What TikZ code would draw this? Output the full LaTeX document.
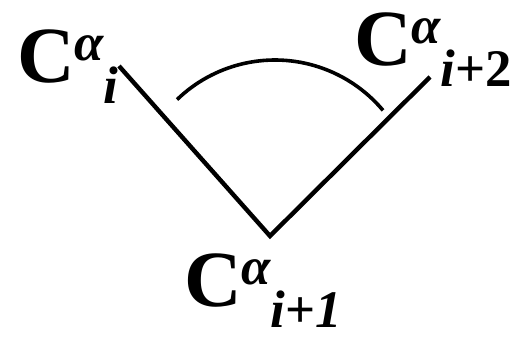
\documentclass[tikz,border=0pt]{standalone}
\usepackage{fontspec}
\setmainfont{Liberation Serif}
\usetikzlibrary{calc}
\tikzset{
  bond/.style={line width=4.4bp,line join=miter},
  anglemark/.style={line width=3.6bp},
  atomlbl/.style={inner sep=0pt,anchor=base west}
}
\newcommand{\scriptfnt}{\fontsize{53}{53}\selectfont\bfseries}
\newcommand{\calpha}[1]{{\fontsize{80}{80}\selectfont\bfseries C\raisebox{22bp}{\scriptfnt\itshape α}\raisebox{-21bp}{\scriptfnt #1}}}

\begin{document}
\begin{tikzpicture}[x=1bp,y=-1bp]
\useasboundingbox (0,0) rectangle (523,336);

% backbone atoms
\coordinate (ca0) at (119,66);
\coordinate (ca1) at (270,236);
\coordinate (ca2) at (430,77);
\coordinate (ctr) at (275,201);

% labels
\node[atomlbl] (l0) at (17,82) {\calpha{\textit{i}}};
\node[atomlbl] (l1) at (184,306) {\calpha{\textit{i}+\textit{1}}};
\node[atomlbl] (l2) at (354,65) {\calpha{\textit{i}+2}};

% bonds
\draw[bond] (ca0) -- (ca1) -- (ca2);

% bond angle
\draw[anglemark] ($(ctr)+(-134:141)$) arc[start angle=-134,end angle=-40,radius=141];
\end{tikzpicture}
\end{document}
